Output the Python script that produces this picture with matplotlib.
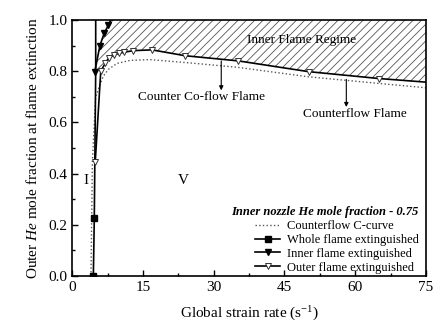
import matplotlib
matplotlib.use("Agg")
import matplotlib.pyplot as plt
import numpy as np

plt.rcParams['font.family'] = ['Liberation Serif', 'DejaVu Serif']
plt.rcParams['mathtext.fontset'] = 'custom'
plt.rcParams['mathtext.rm'] = 'Liberation Serif'
plt.rcParams['mathtext.it'] = 'Liberation Serif:italic'
plt.rcParams['mathtext.bf'] = 'Liberation Serif:bold'
plt.rcParams['hatch.linewidth'] = 0.6

# Counterflow C-curve (dotted)
c_x = [4.0, 4.3, 5.0, 6.6, 7.7, 9.5, 12.3, 16.5, 25.0, 35.0, 50.0, 65.0, 75.0]
c_y = [0.0, 0.45, 0.70, 0.78, 0.807, 0.83, 0.842, 0.845, 0.832, 0.815, 0.778, 0.752, 0.735]

# Whole flame extinguished (markers on first two points)
whole_x = [4.5, 4.7, 5.0, 5.0]
whole_y = [0.0, 0.225, 0.80, 1.0]

# Inner flame extinguished
inner_x = [4.8, 5.9, 6.8, 7.7, 8.2]
inner_y = [0.798, 0.90, 0.948, 0.98, 1.0]

# Outer flame extinguished
outer_x = [4.9, 6.07, 7.0, 7.9, 8.9, 10.0, 11.1, 13.0, 16.9, 24.0, 35.2, 50.1, 65.1, 75.0]
outer_y = [0.445, 0.80, 0.83, 0.853, 0.863, 0.87, 0.874, 0.88, 0.883, 0.86, 0.84, 0.798, 0.771, 0.757]

x_ticks = [0, 15, 30, 45, 60, 75]
y_ticks = [0.0, 0.2, 0.4, 0.6, 0.8, 1.0]

fig = plt.figure(figsize=(4.37, 3.26), dpi=100)
ax = fig.add_axes([0.165, 0.153, 0.81, 0.786])

# Hatched inner flame regime
ox = np.array(outer_x[1:])
oy = np.array(outer_y[1:])
poly_x = list(inner_x) + [75.0] + list(ox[::-1])
poly_y = list(inner_y) + [1.0] + list(oy[::-1])
ax.fill(poly_x, poly_y, facecolor='none', edgecolor='#555555', hatch='////', linewidth=0, zorder=1)

ax.plot(c_x, c_y, linestyle=':', color='#555555', linewidth=1.0, label='Counterflow C-curve', zorder=2)
ax.plot(whole_x, whole_y, '-', color='black', linewidth=1.2, marker='s', markersize=4,
        markevery=[0, 1], label='Whole flame extinguished', zorder=3)
ax.plot(inner_x, inner_y, '-', color='black', linewidth=1.2, marker='v', markersize=4.5,
        markevery=[0, 1, 2, 3], label='Inner flame extinguished', zorder=3)
ax.plot(outer_x, outer_y, '-', color='black', linewidth=1.2, marker='v', markersize=4.5,
        markerfacecolor='white', markeredgecolor='#333333', markeredgewidth=0.7,
        markevery=list(range(len(outer_x) - 1)), label='Outer flame extinguished', zorder=4)

ax.set_xlim(0, 75)
ax.set_ylim(0, 1.0)
ax.set_xticks(x_ticks)
ax.set_yticks(y_ticks)
ax.set_xticks(np.arange(7.5, 75, 15), minor=True)
ax.set_yticks(np.arange(0.1, 1.0, 0.2), minor=True)
ax.set_yticklabels([f'{v:.1f}' for v in y_ticks])
ax.tick_params(which='both', direction='in', labelsize=11)
ax.tick_params(which='major', length=4, width=1)
ax.tick_params(which='minor', length=2.5, width=1)
for s in ax.spines.values():
    s.set_linewidth(1.2)

ax.set_xlabel('Global strain rate (s$^{-1}$)', fontsize=11, labelpad=8)
ax.set_ylabel('Outer $\\it{He}$ mole fraction at flame extinction', fontsize=11, labelpad=6)

ax.text(48.7, 0.92, 'Inner Flame Regime', fontsize=9.5, ha='center', va='center', zorder=5)
ax.text(3.0, 0.375, 'I', fontsize=11, ha='center', va='center')
ax.text(23.5, 0.375, 'V', fontsize=11, ha='center', va='center')

ax.text(27.5, 0.70, 'Counter Co-flow Flame', fontsize=9.5, ha='center', va='center')
ax.annotate('', xy=(31.6, 0.725), xytext=(31.6, 0.84),
            arrowprops=dict(arrowstyle='-|>', color='black', lw=0.8, mutation_scale=6,
                            shrinkA=0, shrinkB=0))
ax.text(60.0, 0.633, 'Counterflow Flame', fontsize=9.5, ha='center', va='center')
ax.annotate('', xy=(58.1, 0.66), xytext=(58.1, 0.768),
            arrowprops=dict(arrowstyle='-|>', color='black', lw=0.8, mutation_scale=6,
                            shrinkA=0, shrinkB=0))

leg = ax.legend(loc='lower right', bbox_to_anchor=(1.0, -0.02), frameon=False, fontsize=9,
                handlelength=2.0, handletextpad=0.5, labelspacing=0.15, borderaxespad=0.2,
                title='Inner nozzle He mole fraction - 0.75',
                title_fontproperties={'style': 'italic', 'weight': 'bold', 'size': 9})
leg._legend_box.align = 'right'

fig.savefig('out.png', dpi=100)
